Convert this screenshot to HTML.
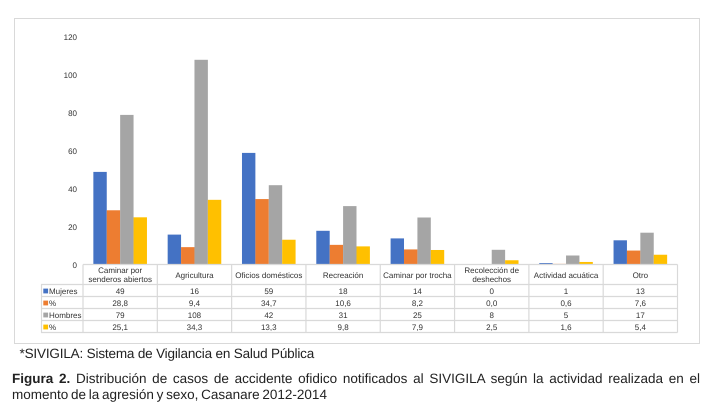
<!DOCTYPE html>
<html lang="es">
<head>
<meta charset="utf-8">
<title>Figura 2</title>
<style>
html,body{margin:0;padding:0;background:#fff;}
body{width:719px;height:411px;overflow:hidden;position:relative;font-family:"Liberation Sans",sans-serif;text-rendering:geometricPrecision;}
#chart{position:absolute;left:0;top:0;}
#chart text{font-family:"Liberation Sans",sans-serif;}
.cap{position:absolute;color:#222;white-space:nowrap;}
</style>
</head>
<body>
<svg id="chart" width="719" height="345" viewBox="0 0 719 345"></svg>
<div class="cap" style="left:19.5px;top:346px;font-size:13.5px;line-height:16px;letter-spacing:-.17px;">*SIVIGILA: Sistema de Vigilancia en Salud Pública</div>
<div class="cap" style="left:12px;top:371px;width:688px;font-size:13.5px;line-height:15px;white-space:normal;text-align:justify;text-align-last:justify;"><b>Figura 2.</b> Distribución de casos de accidente ofidico notificados al SIVIGILA según la actividad realizada en el</div>
<div class="cap" style="left:12px;top:387px;font-size:13.5px;line-height:15px;word-spacing:-1px;">momento de la agresión y sexo, Casanare 2012-2014</div>
<script>
const categories = [
  ["Caminar por", "senderos abiertos"],
  ["Agricultura"],
  ["Oficios domésticos"],
  ["Recreación"],
  ["Caminar por trocha"],
  ["Recolección de", "deshechos"],
  ["Actividad acuática"],
  ["Otro"]
];
const mujeres = [49, 16, 59, 18, 14, 0, 1, 13];
const mujeresPct = [28.8, 9.4, 34.7, 10.6, 8.2, 0.0, 0.6, 7.6];
const hombres = [79, 108, 42, 31, 25, 8, 5, 17];
const hombresPct = [25.1, 34.3, 13.3, 9.8, 7.9, 2.5, 1.6, 5.4];
const yTicks = [0, 20, 40, 60, 80, 100, 120];
const seriesNames = ["Mujeres", "%", "Hombres", "%"];

const svg = document.getElementById('chart');
const NS = 'http://www.w3.org/2000/svg';
const tableLeft = 41, plotLeft = 83, plotRight = 677.5, y0 = 265, y120 = 37;
const colW = (plotRight - plotLeft) / categories.length;
const barW = 13.4;
const rowYs = [285, 297, 309, 321, 333];
const colors = ['#4472c4', '#ed7d31', '#a5a5a5', '#ffc000'];
const series = [mujeres, mujeresPct, hombres, hombresPct];

function yScale(v) { return y0 - v * (y0 - y120) / 120; }
function xBand(i) { return plotLeft + i * colW; }
function fmt(s, v) { return s % 2 === 0 ? String(v) : v.toFixed(1).replace('.', ','); }

function make(tag, attrs, text) {
  const el = document.createElementNS(NS, tag);
  for (const k in attrs) el.setAttribute(k, attrs[k]);
  if (text !== undefined) el.textContent = text;
  svg.appendChild(el);
  return el;
}
function line(x1, y1, x2, y2, color, name) {
  const el = make('line', {x1: x1, y1: y1, x2: x2, y2: y2, stroke: color, 'stroke-width': 1.2});
  
  
}
function label(x, y, str, anchor, size, name) {
  const el = make('text', {x: x, y: y, 'text-anchor': anchor, 'font-size': size, fill: '#333'}, str);
  
  
}

const frame = make('rect', {x: 14.5, y: 18.5, width: 685, height: 325, fill: '#fff', stroke: '#d9d9d9', 'stroke-width': 1});



yTicks.forEach(function (t) {
  label(77, yScale(t) + 2.8, String(t), 'end', 8, 'y-axis-tick-' + t);
});

series.forEach(function (vals, s) {
  vals.forEach(function (v, i) {
    const groupStart = xBand(i) + (colW - barW * 4) / 2;
    const bar = make('rect', {x: groupStart + s * barW, y: yScale(v), width: barW, height: y0 - yScale(v), fill: colors[s]});
    
    
  });
});

line(plotLeft, 264.5, plotRight, 264.5, '#d9d9d9', 'table-top-line');
rowYs.forEach(function (y, r) {
  line(tableLeft, y - 0.5, plotRight, y - 0.5, '#d9d9d9', 'table-row-line-' + r);
});
line(tableLeft + 0.5, 284.5, tableLeft + 0.5, 332.5, '#d9d9d9', 'table-left-line');
categories.forEach(function (c, i) {
  line(xBand(i), 264.5, xBand(i), 332.5, '#d9d9d9', 'table-column-line-' + i);
});
line(plotRight, 264.5, plotRight, 332.5, '#d9d9d9', 'table-right-line');

categories.forEach(function (lines, i) {
  const cx = xBand(i) + colW / 2;
  lines.forEach(function (str, k) {
    const y = lines.length === 1 ? 278 : 273 + k * 9;
    label(cx, y, str, 'middle', 8, 'category-label-' + i + '-line-' + k);
  });
});

series.forEach(function (vals, s) {
  const cellBottom = rowYs[s + 1];
  const swatch = make('rect', {x: 43.3, y: cellBottom - 8.4, width: 4.8, height: 4.8, fill: colors[s]});
  
  
  label(49, cellBottom - 3.2, seriesNames[s], 'start', 8, 'legend-entry-' + s);
  vals.forEach(function (v, i) {
    label(xBand(i) + colW / 2, cellBottom - 3.2, fmt(s, v), 'middle', 8, 'table-value-series-' + s + '-category-' + i);
  });
});
</script>
</body>
</html>
